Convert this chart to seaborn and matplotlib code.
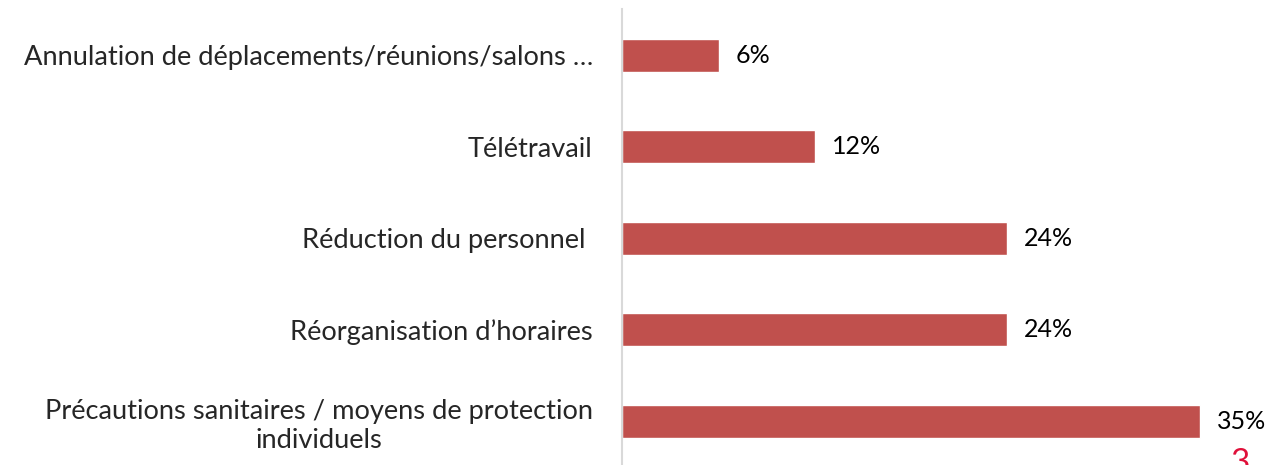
import matplotlib
matplotlib.use('Agg')
import pandas as pd
import seaborn as sns
import matplotlib.pyplot as plt

categories = [
    'Annulation de déplacements/réunions/salons …',
    'Télétravail',
    'Réduction du personnel ',
    'Réorganisation d\u2019horaires',
    'Précautions sanitaires / moyens de protection\nindividuels',
]
values = [5.9, 11.8, 23.5, 23.5, 35.3]
value_labels = ['6%', '12%', '24%', '24%', '35%']
page_number = '3'

sns.set_style('white')
plt.rcParams['font.family'] = ['Lato', 'DejaVu Sans']

df = pd.DataFrame({'cat': categories, 'val': values})

fig = plt.figure(figsize=(12.83, 4.65), dpi=100)
ax = fig.add_axes([622 / 1283, -0.004, 1 - 622 / 1283, 0.984])
sns.barplot(data=df, x='val', y='cat', color='#c0504d', width=0.36,
            saturation=1, ax=ax)

for i, (v, lab) in enumerate(zip(values, value_labels)):
    ax.annotate(lab, (v, i), xytext=(12, 0), textcoords='offset points',
                va='center', ha='left', fontsize=18, color='black')

ax.set_xlim(0, (1283 - 622) / 16.38)
ax.set_xlabel('')
ax.set_ylabel('')
ax.set_xticks([])
ax.tick_params(axis='y', length=0, pad=21, labelsize=19.6)
for lab in ax.get_yticklabels():
    lab.set_multialignment('center')
    lab.set_linespacing(1.2)
for s in ['top', 'right', 'bottom']:
    ax.spines[s].set_visible(False)
ax.spines['left'].set_color('#d9d9d9')
ax.spines['left'].set_linewidth(1.5)

fig.text(1240 / 1283, 1 - 448 / 465, page_number, color='#e0103a',
         fontsize=24, ha='center', va='top')

fig.savefig('out.png', dpi=100)
